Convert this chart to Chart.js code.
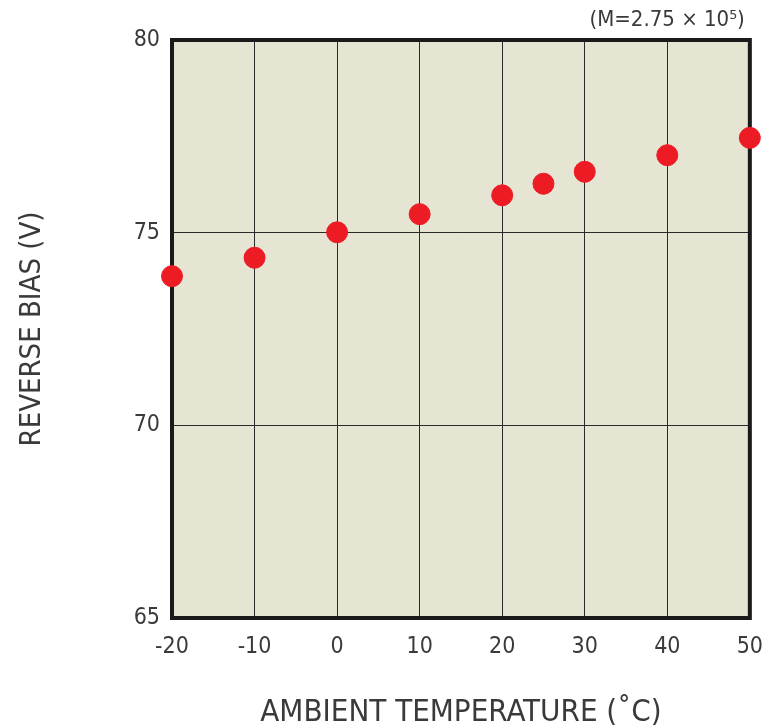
<!DOCTYPE html>
<html lang="en">
<head>
    <meta charset="UTF-8">
    <title>Reverse bias vs ambient temperature</title>
    <script src="https://cdn.jsdelivr.net/npm/chart.js"></script>
    <style>
        html, body { margin: 0; padding: 0; background: #fff; }
        #wrap { width: 778px; height: 728px; }
    </style>
</head>
<body>
    <div id="wrap"><canvas id="biasChart" width="778" height="728"></canvas></div>

    <script>
        const temperatures = [-20, -10, 0, 10, 20, 25, 30, 40, 50];
        const reverseBias = [73.87, 74.35, 75.01, 75.48, 75.97, 76.27, 76.58, 77.01, 77.46];
        const noteText = '(M=2.75 \u00d7 10\u2075)';
        const xTitle = 'AMBIENT TEMPERATURE (\u02daC)';
        const yTitle = 'REVERSE BIAS (V)';

        const fontFamily = '"Liberation Sans Narrow", "DejaVu Sans Condensed", "Liberation Sans", sans-serif';
        const textColor = '#3a3a3a';

        // plot background, frame and the multiplication note
        const framePlugin = {
            id: 'frame',
            beforeDraw(chart) {
                const { ctx, chartArea: a } = chart;
                ctx.save();
                ctx.fillStyle = '#e6e4d3';
                ctx.fillRect(a.left, a.top, a.right - a.left, a.bottom - a.top);
                ctx.restore();
            },
            beforeDatasetsDraw(chart) {
                const { ctx, chartArea: a } = chart;
                ctx.save();
                ctx.strokeStyle = '#1a1a1a';
                ctx.lineWidth = 4;
                ctx.strokeRect(a.left, a.top, a.right - a.left, a.bottom - a.top);
                ctx.fillStyle = textColor;
                ctx.font = '22px ' + fontFamily;
                ctx.textAlign = 'right';
                ctx.textBaseline = 'middle';
                ctx.fillText(noteText, a.right - 5, 20);
                ctx.restore();
            }
        };

        const points = temperatures.map((t, i) => ({ x: t, y: reverseBias[i] }));

        new Chart(document.getElementById('biasChart').getContext('2d'), {
            type: 'scatter',
            data: {
                datasets: [{
                    data: points,
                    backgroundColor: '#ed1c24',
                    borderColor: '#ed1c24',
                    pointRadius: 10.5,
                    pointHoverRadius: 10.5,
                    clip: false
                }]
            },
            options: {
                responsive: false,
                animation: false,
                layout: { padding: { left: 0, right: 28, top: 40, bottom: 0 } },
                plugins: { legend: { display: false }, tooltip: { enabled: false } },
                scales: {
                    x: {
                        type: 'linear',
                        min: -20,
                        max: 50,
                        afterFit(scale) { scale.height = 110; },
                        grid: { color: '#2a2a2a', lineWidth: 1, drawTicks: false },
                        border: { display: false },
                        ticks: {
                            stepSize: 10,
                            padding: 15,
                            color: textColor,
                            font: { family: fontFamily, size: 23 }
                        },
                        title: {
                            display: true,
                            text: xTitle,
                            color: textColor,
                            padding: { top: 0, bottom: 0 },
                            font: { family: fontFamily, size: 31, lineHeight: 1.0 }
                        }
                    },
                    y: {
                        min: 65,
                        max: 80,
                        afterFit(scale) { scale.width = 172; },
                        grid: { color: '#2a2a2a', lineWidth: 1, drawTicks: false },
                        border: { display: false },
                        ticks: {
                            stepSize: 5,
                            padding: 12,
                            color: textColor,
                            font: { family: fontFamily, size: 23 }
                        },
                        title: {
                            display: true,
                            text: yTitle,
                            color: textColor,
                            padding: { top: 15, bottom: 0 },
                            font: { family: fontFamily, size: 29 }
                        }
                    }
                }
            },
            plugins: [framePlugin]
        });
    </script>
</body>
</html>
